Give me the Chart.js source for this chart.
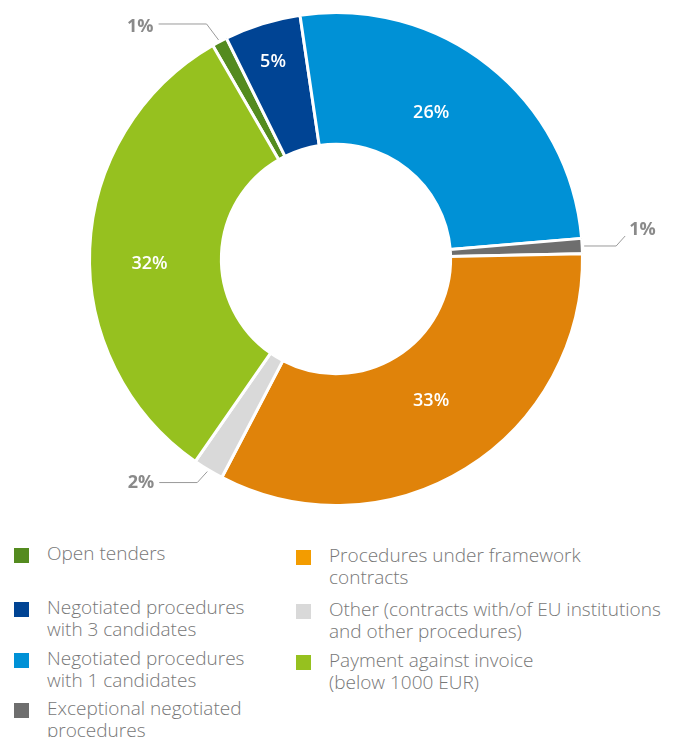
<!DOCTYPE html>
<html>
<head>
<meta charset="utf-8">
<script src="https://cdn.jsdelivr.net/npm/chart.js@4.4.1/dist/chart.umd.min.js"></script>
<style>
  html, body { margin: 0; padding: 0; background: #fff; }
  #wrap { width: 691px; height: 737px; position: relative; overflow: hidden; }
  #chart { display: block; }
  #legend {
    position: absolute; left: 14px; top: 542px; width: 677px;
    display: grid; grid-template-columns: 282px 395px;
    grid-template-rows: 54px 51px 50px 52px; grid-auto-flow: column;
    font-family: "Open Sans", sans-serif; font-size: 19px; line-height: 22px;
    color: #777777; font-weight: 300;
  }
  .item { display: flex; align-items: flex-start; }
  .right { position: relative; top: 2px; }
  .box { width: 15px; height: 15px; flex: none; margin-top: 6px; margin-right: 18px; }
</style>
</head>
<body>
<div id="wrap">
  <canvas id="chart" width="691" height="520"></canvas>
  <div id="legend"></div>
</div>
<script>
document.addEventListener('DOMContentLoaded', function() {
    const categories = [
        'Open tenders',
        'Negotiated procedures with 3 candidates',
        'Negotiated procedures with 1 candidates',
        'Exceptional negotiated procedures',
        'Procedures under framework contracts',
        'Other (contracts with/of EU institutions and other procedures)',
        'Payment against invoice (below 1000 EUR)'
    ];
    const legendLines = [
        ['Open tenders'],
        ['Negotiated procedures', 'with 3 candidates'],
        ['Negotiated procedures', 'with 1 candidates'],
        ['Exceptional negotiated', 'procedures'],
        ['Procedures under framework', 'contracts'],
        ['Other (contracts with/of EU institutions', 'and other procedures)'],
        ['Payment against invoice', '(below 1000 EUR)']
    ];
    const shares = [1, 5, 26, 1, 33, 2, 32];
    const colors = ['#548b1f', '#004494', '#0091d6', '#6e6e6e', '#e0830a', '#d9d9d9', '#96c11f'];
    const legendColors = ['#548b1f', '#004494', '#0091d6', '#6e6e6e', '#f39c00', '#d9d9d9', '#96c11f'];

    // small slices get their label outside, joined by a bent line
    const callouts = {
        0: { bend: [-12, -16], end: [-60, -16], align: 'right', dy: 3 },
        3: { bend: [32, 0], end: [41, -10], align: 'left', dy: -6 },
        5: { bend: [-10, 11], end: [-48, 11], align: 'right', dy: 0 }
    };
    // hand nudges for the labels drawn inside the ring
    const nudges = { 1: [-9, -25], 2: [-17, -5], 4: [0, -12], 6: [-6, 12] };

    const sliceLabels = {
        id: 'sliceLabels',
        afterDatasetsDraw(chart) {
            const ctx = chart.ctx;
            const meta = chart.getDatasetMeta(0);
            ctx.save();
            ctx.textBaseline = 'middle';
            meta.data.forEach((arc, i) => {
                const text = shares[i] + '%';
                const c = callouts[i];
                if (!c) {
                    const p = arc.tooltipPosition();
                    const n = nudges[i] || [0, 0];
                    ctx.font = '600 18px "Open Sans", sans-serif';
                    ctx.fillStyle = '#ffffff';
                    ctx.textAlign = 'center';
                    ctx.fillText(text, p.x + n[0], p.y + n[1]);
                    return;
                }
                const mid = (arc.startAngle + arc.endAngle) / 2;
                const ax = arc.x + Math.cos(mid) * (arc.outerRadius + 2);
                const ay = arc.y + Math.sin(mid) * (arc.outerRadius + 2);
                ctx.strokeStyle = '#9a9a9a';
                ctx.lineWidth = 1;
                ctx.beginPath();
                ctx.moveTo(ax, ay);
                ctx.lineTo(ax + c.bend[0], ay + c.bend[1]);
                ctx.lineTo(ax + c.end[0], ay + c.end[1]);
                ctx.stroke();
                ctx.font = 'bold 18px "Open Sans", sans-serif';
                ctx.fillStyle = '#8a8a8a';
                ctx.textAlign = c.align;
                const tx = ax + c.end[0] + (c.align === 'right' ? -5 : 4);
                ctx.fillText(text, tx, ay + c.end[1] + c.dy);
            });
            ctx.restore();
        }
    };

    new Chart(document.getElementById('chart').getContext('2d'), {
        type: 'doughnut',
        data: {
            labels: categories,
            datasets: [{
                data: shares,
                backgroundColor: colors,
                borderColor: '#ffffff',
                borderWidth: 3
            }]
        },
        options: {
            responsive: false,
            animation: false,
            rotation: -30,
            cutout: '46.5%',
            layout: { padding: { left: 88, right: 107, top: 11, bottom: 13 } },
            plugins: {
                legend: { display: false },
                tooltip: { enabled: false }
            }
        },
        plugins: [sliceLabels]
    });

    // legend in two columns, filled top to bottom
    const legend = document.getElementById('legend');
    legendLines.forEach((lines, i) => {
        const item = document.createElement('div');
        item.className = i >= 4 ? 'item right' : 'item';
        const box = document.createElement('span');
        box.className = 'box';
        box.style.background = legendColors[i];
        const label = document.createElement('span');
        label.innerHTML = lines.join('<br>');
        item.appendChild(box);
        item.appendChild(label);
        legend.appendChild(item);
    });
});
</script>
</body>
</html>
